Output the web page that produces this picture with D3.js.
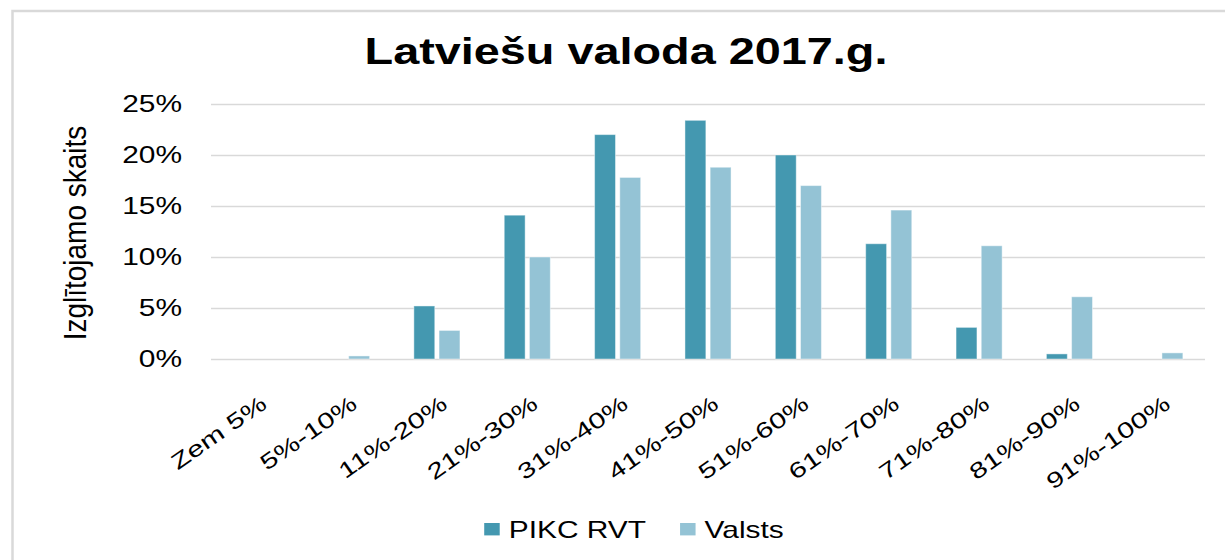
<!DOCTYPE html>
<html>
<head>
<meta charset="utf-8">
<script src="https://cdn.jsdelivr.net/npm/d3@7"></script>
<style>
  body { margin: 0; background: #fff; }
  text { font-family: "Liberation Sans", Arial, sans-serif; fill: #000; }
</style>
</head>
<body>
<script>
// data (percent of learners)
var categories = ["Zem 5%", "5%-10%", "11%-20%", "21%-30%", "31%-40%", "41%-50%",
                  "51%-60%", "61%-70%", "71%-80%", "81%-90%", "91%-100%"];
var seriesNames = ["PIKC RVT", "Valsts"];
var pikcValues = [0, 0, 5.2, 14.1, 22.0, 23.4, 20.0, 11.3, 3.1, 0.5, 0];
var valstsValues = [0, 0.3, 2.8, 10.0, 17.8, 18.8, 17.0, 14.6, 11.1, 6.1, 0.6];
var yTicks = [0, 5, 10, 15, 20, 25];
var colors = ["#4498b0", "#94c3d5"];

var w = 1225, h = 560;
var stretch = 1.3; // the text in the picture is drawn wide

var svg = d3.select("body").append("svg")
    .attr("width", w).attr("height", h);

// chart frame (only top and left edges are visible in the picture)
svg.append("rect")
    .attr("x", 12.5).attr("y", 11).attr("width", 1300).attr("height", 700)
    .attr("fill", "none").attr("stroke", "#d9d9d9").attr("stroke-width", 2.5);

var x0 = d3.scaleBand().domain(categories).range([211, 1205])
    .paddingInner(0.49).paddingOuter(0.245);
var x1 = d3.scaleBand().domain(seriesNames).range([0, x0.bandwidth()])
    .paddingInner(0.17);
var y = d3.scaleLinear().domain([0, 25]).range([359, 104]);

// gridlines + y labels
var yAxis = d3.axisLeft(y).tickValues(yTicks).tickSize(-(1205 - 211)).tickFormat("");
svg.append("g").attr("transform", "translate(211,0)").call(yAxis)
    .call(function(g) {
      g.select(".domain").remove();
      g.selectAll(".tick line").attr("stroke", "#d9d9d9").attr("stroke-width", 1.6);
    });

svg.append("g").selectAll("g").data(yTicks).enter().append("g")
    .attr("transform", function(d) { return "translate(182," + y(d) + ") scale(" + stretch + ",1)"; })
  .append("text")
    .attr("text-anchor", "end").attr("dy", "0.36em")
    .style("font-size", "23px")
    .text(function(d) { return d + "%"; });

// bars
var rows = categories.map(function(c, i) {
  return { cat: c, values: [pikcValues[i], valstsValues[i]] };
});

svg.append("g").selectAll("g").data(rows).enter().append("g")
    .attr("transform", function(d) { return "translate(" + x0(d.cat) + ",0)"; })
  .selectAll("rect").data(function(d) { return d.values.map(function(v, k) { return { s: seriesNames[k], v: v, k: k }; }); })
  .enter().append("rect")
    .filter(function(d) { return d.v > 0; })
    .attr("x", function(d) { return x1(d.s); })
    .attr("y", function(d) { return y(d.v); })
    .attr("width", x1.bandwidth())
    .attr("height", function(d) { return y(0) - y(d.v); })
    .attr("fill", function(d) { return colors[d.k]; })
    .attr("stroke", "#ffffff").attr("stroke-opacity", 0.45).attr("stroke-width", 1);

// x labels
svg.append("g").selectAll("g").data(categories).enter().append("g")
    .attr("transform", function(d) {
      return "translate(" + (x0(d) + x0.bandwidth() / 2 + 3) + ",394) rotate(-35) scale(1.35,1)";
    })
  .append("text")
    .attr("text-anchor", "end").attr("dy", "0.72em")
    .style("font-size", "22px")
    .text(function(d) { return d; });

// title
svg.append("g").attr("transform", "translate(626,64) scale(" + stretch + ",1)")
  .append("text")
    .attr("text-anchor", "middle")
    .style("font-size", "36px").style("font-weight", "bold")
    .text("Latviešu valoda 2017.g.");

// y axis title
svg.append("text")
    .attr("transform", "translate(86,233) rotate(-90) scale(1,1.1)")
    .attr("text-anchor", "middle")
    .style("font-size", "28px")
    .text("Izglītojamo skaits");

// legend
var legend = svg.append("g");
var items = legend.selectAll("g").data(seriesNames).enter().append("g");
items.append("rect")
    .attr("y", 523).attr("width", 15.5).attr("height", 12.4)
    .attr("fill", function(d, i) { return colors[i]; });
items.append("g").attr("class", "lbl")
  .append("text")
    .style("font-size", "23px")
    .text(function(d) { return d; });

var xpos = 0, widths = [];
items.each(function() {
  widths.push(d3.select(this).select("text").node().getComputedTextLength() * stretch);
});
var total = d3.sum(widths) + seriesNames.length * (15.5 + 9) + 34 * (seriesNames.length - 1);
xpos = 634 - total / 2;
items.each(function(d, i) {
  var it = d3.select(this);
  it.select("rect").attr("x", xpos);
  it.select(".lbl").attr("transform", "translate(" + (xpos + 15.5 + 9) + ",538) scale(" + stretch + ",1)");
  xpos += 15.5 + 9 + widths[i] + 34;
});
</script>
</body>
</html>
